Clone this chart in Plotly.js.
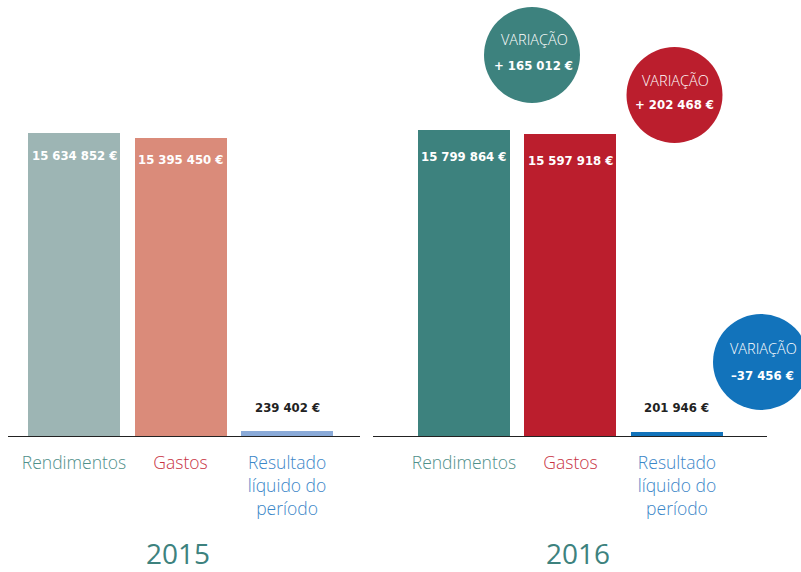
<!DOCTYPE html>
<html>
<head>
<meta charset="utf-8">
<script src="https://cdn.plot.ly/plotly-3.0.1.min.js"></script>
<style>html,body{margin:0;padding:0;background:#fff;}#chart{width:801px;height:572px;}</style>
</head>
<body>
<div id="chart"></div>
<script>
// ---- data ----
const categories = ['Rendimentos', 'Gastos', 'Resultado líquido do período'];
const tickLabels = ['Rendimentos', 'Gastos', 'Resultado<br>líquido do<br>período'];
const years = ['2015', '2016'];
const values2015 = [15634852, 15395450, 239402];
const values2016 = [15799864, 15597918, 201946];
const colors2015 = ['#9db5b4', '#da8b7a', '#8aaad8'];
const colors2016 = ['#3d827e', '#bb1e2d', '#1273bb'];
const labelColors = ['#4f908a', '#c8323f', '#3a86c8'];
const variationLabel = 'VARIAÇÃO';

// ---- helpers ----
const W = 801, H = 572;
const px = x => x / W;
const py = y => 1 - y / H;
function fmt(n) {
  return Math.abs(n).toString().replace(/\B(?=(\d{3})+(?!\d))/g, ' ') + ' €';
}
function fmtVar(n) {
  return n >= 0 ? '+ ' + fmt(n) : '\u2013' + fmt(n);
}
const condBold = {family: 'DejaVu Sans Condensed', size: 13, weight: 'bold'};
const lightFont = {family: 'Open Sans', size: 17.5, weight: 300};

const ticktext = tickLabels.map((t, i) => `<span style="color:${labelColors[i]}">${t}</span>`);

const traces = [
  {type: 'bar', x: categories, y: values2015, xaxis: 'x', yaxis: 'y',
   marker: {color: colors2015}, width: 0.864, hoverinfo: 'skip'},
  {type: 'bar', x: categories, y: values2016, xaxis: 'x2', yaxis: 'y',
   marker: {color: colors2016}, width: 0.864, hoverinfo: 'skip'}
];

const annotations = [];
[[values2015, 'x', -22, 24], [values2016, 'x2', -27, 25]].forEach(([vals, xr, inShift, outShift]) => {
  vals.forEach((v, i) => {
    const small = i === 2;
    annotations.push({
      xref: xr, yref: 'y', x: categories[i], y: v,
      text: fmt(v), showarrow: false,
      yanchor: 'middle', yshift: small ? outShift : inShift,
      font: Object.assign({}, condBold, {color: small ? '#222222' : '#ffffff'})
    });
  });
});

// year labels
[[178, years[0]], [578, years[1]]].forEach(([x, t]) => {
  annotations.push({xref: 'paper', yref: 'paper', x: px(x), y: py(553), text: t,
    showarrow: false, xanchor: 'center', yanchor: 'middle',
    font: {family: 'Open Sans', size: 28, color: '#3d827e'}});
});

// variation circles
const circles = [
  {cx: 532, cy: 55, r: 48, color: colors2016[0], d: values2016[0] - values2015[0], tx: 534, ty1: 40, ty2: 65},
  {cx: 674.5, cy: 95, r: 48, color: colors2016[1], d: values2016[1] - values2015[1], tx: 675, ty1: 80, ty2: 105},
  {cx: 761, cy: 362, r: 48, color: colors2016[2], d: values2016[2] - values2015[2], tx: 763, ty1: 348, ty2: 375}
];
const shapes = circles.map(c => ({
  type: 'circle', xref: 'paper', yref: 'paper',
  x0: px(c.cx - c.r), x1: px(c.cx + c.r), y0: py(c.cy + c.r), y1: py(c.cy - c.r),
  fillcolor: c.color, line: {width: 0}, layer: 'above'
}));
circles.forEach(c => {
  annotations.push({xref: 'paper', yref: 'paper', x: px(c.tx), y: py(c.ty1), text: variationLabel,
    showarrow: false, xanchor: 'center', yanchor: 'middle',
    font: {family: 'Open Sans', size: 14.5, weight: 300, color: '#ffffff'}});
  annotations.push({xref: 'paper', yref: 'paper', x: px(c.tx - 1), y: py(c.ty2), text: fmtVar(c.d),
    showarrow: false, xanchor: 'center', yanchor: 'middle',
    font: Object.assign({}, condBold, {color: '#ffffff'})});
});

const xCommon = {
  type: 'category', showgrid: false, zeroline: false, showline: true,
  linecolor: '#222222', linewidth: 1, ticks: '', tickvals: categories, ticktext: ticktext,
  tickfont: lightFont, ticklabelstandoff: 11, automargin: false, fixedrange: true
};

const layout = {
  width: W, height: H,
  margin: {l: 0, r: 0, t: 0, b: 0},
  paper_bgcolor: '#ffffff', plot_bgcolor: '#ffffff',
  showlegend: false,
  bargap: 0,
  xaxis: Object.assign({}, xCommon, {domain: [px(8), px(360)], range: [-0.620, 2.685], anchor: 'y'}),
  xaxis2: Object.assign({}, xCommon, {domain: [px(373), px(767)], range: [-0.854, 2.845], anchor: 'y'}),
  yaxis: {domain: [py(436), 1], range: [0, 22500000], visible: false, fixedrange: true},
  annotations: annotations,
  shapes: shapes
};

Plotly.newPlot('chart', traces, layout, {displayModeBar: false, staticPlot: true});
</script>
</body>
</html>
